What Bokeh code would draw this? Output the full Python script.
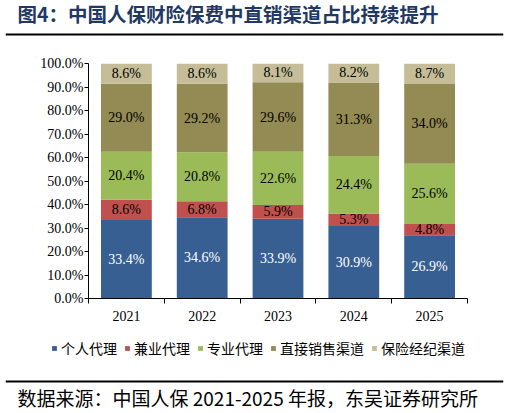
from bokeh.plotting import figure
from bokeh.models import (Range1d, FixedTicker, NumeralTickFormatter, Legend,
                          LegendItem, ColumnDataSource)
from bokeh.layouts import column
from bokeh.embed import file_html
from bokeh.resources import INLINE
from bokeh.core.properties import value

# ---------------- data ----------------
years = ["2021", "2022", "2023", "2024", "2025"]
channels = ["个人代理", "兼业代理", "专业代理", "直接销售渠道", "保险经纪渠道"]
agent = [33.4, 34.6, 33.9, 30.9, 26.9]
part_time = [8.6, 6.8, 5.9, 5.3, 4.8]
professional = [20.4, 20.8, 22.6, 24.4, 25.6]
direct = [29.0, 29.2, 29.6, 31.3, 34.0]
broker = [8.6, 8.6, 8.1, 8.2, 8.7]
y_ticks = [0.0, 0.1, 0.2, 0.3, 0.4, 0.5, 0.6, 0.7, 0.8, 0.9, 1.0]
title_text = "图4：中国人保财险保费中直销渠道占比持续提升"
source_text = "数据来源：中国人保 2021-2025 年报，东吴证券研究所"

# ---------------- styles ----------------
colors = ["#385F92", "#C0504D", "#9BBB59", "#948A54", "#C4BD97"]
label_colors = ["#FFFFFF", "#000000", "#000000", "#000000", "#000000"]
SERIF = "Liberation Serif"
CJK = "Noto Sans CJK SC"
W = 509


def strip(height):
    # frame spans page x 5..503, data units = page pixels
    s = figure(width=W, height=height, x_range=Range1d(5, 503), y_range=Range1d(height, 0),
               min_border_left=5, min_border_right=6, min_border_top=0, min_border_bottom=0,
               toolbar_location=None, output_backend="svg",
               x_axis_location=None, y_axis_location=None)
    s.grid.visible = False
    s.outline_line_color = None
    return s


series = [agent, part_time, professional, direct, broker]
keys = ["s%d" % i for i in range(len(series))]
xs = [i + 0.5 for i in range(len(years))]
data = {"x": xs}
for k, s in zip(keys, series):
    data[k] = [v / 100.0 for v in s]
src = ColumnDataSource(data)

# ---------------- title strip ----------------
t = strip(38)
t.vbar(x="x", top=keys[0], width=0.67, fill_color=colors[0], line_color=None,
       source=src, visible=False)
t.line(x=[5, 503], y=[34, 34], line_color="#000000", line_width=2)
t.text(x=[17], y=[13], text=[title_text], text_font=value(CJK),
       text_font_size="19.5px", text_font_style="bold", text_color="#1F3864",
       text_baseline="middle", text_align="left")

# ---------------- chart ----------------
p = figure(width=W, height=297, x_range=Range1d(0, len(years)), y_range=Range1d(0, 1.0),
           min_border_left=88, min_border_right=42, min_border_top=25,
           min_border_bottom=37, toolbar_location=None, output_backend="svg")
p.grid.visible = False
p.outline_line_color = None

p.vbar_stack(keys, x="x", width=0.67, fill_color=colors, line_color=None, source=src)

bottom = [0.0] * len(years)
for s, lc in zip(series, label_colors):
    mids = []
    for i, v in enumerate(s):
        mids.append(bottom[i] + v / 200.0)
        bottom[i] += v / 100.0
    p.text(x=xs, y=mids, text=["%.1f%%" % v for v in s], text_font=value(SERIF),
           text_font_size="14px", text_color=lc, text_align="center",
           text_baseline="middle")

xa = p.xaxis[0]
xa.ticker = FixedTicker(ticks=xs, minor_ticks=list(range(len(years) + 1)))
xa.major_label_overrides = {x: y for x, y in zip(xs, years)}
xa.major_tick_out = 0
xa.major_tick_in = 0
xa.minor_tick_out = 5
xa.minor_tick_in = 0
xa.minor_tick_line_color = "#000000"
xa.axis_line_color = "#000000"
xa.major_label_standoff = 7
xa.major_label_text_font = SERIF
xa.major_label_text_font_size = "14px"
xa.major_label_text_color = "#000000"

ya = p.yaxis[0]
ya.ticker = FixedTicker(ticks=y_ticks, minor_ticks=[])
ya.formatter = NumeralTickFormatter(format="0.0%")
ya.major_tick_out = 4
ya.major_tick_in = 0
ya.major_tick_line_color = "#000000"
ya.axis_line_color = "#000000"
ya.major_label_standoff = 1
ya.major_label_text_font = SERIF
ya.major_label_text_font_size = "14px"
ya.major_label_text_color = "#000000"

# ---------------- legend + source strip ----------------
f = strip(78)
swatches = [f.vbar(x="x", top=k, width=0.67, fill_color=c, line_color=None,
                   source=src, visible=False) for k, c in zip(keys, colors)]
legend = Legend(items=[LegendItem(label=c, renderers=[r]) for c, r in zip(channels, swatches)],
                location=(46, 55), orientation="horizontal",
                border_line_color=None, background_fill_alpha=0,
                inactive_fill_alpha=0,
                padding=0, margin=0, spacing=7, label_standoff=4,
                glyph_width=6, glyph_height=6, label_height=14,
                label_text_font=CJK, label_text_font_size="14px",
                label_text_color="#000000")
f.add_layout(legend)
f.line(x=[5, 503], y=[46, 46], line_color="#000000", line_width=2)
f.text(x=[17], y=[62], text=[source_text], text_font=value(CJK),
       text_font_size="19px", text_color="#000000",
       text_baseline="middle", text_align="left")

layout = column(column(t), p, column(f), spacing=0)
open("out.html", "w").write(file_html(layout, INLINE))
